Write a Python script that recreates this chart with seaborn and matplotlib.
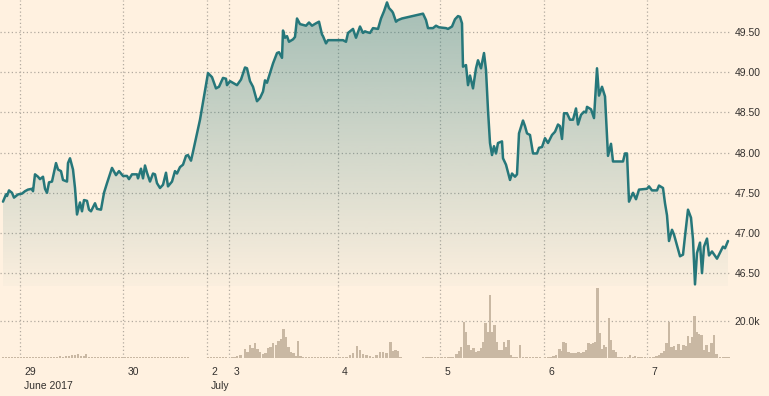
import numpy as np
import matplotlib
matplotlib.use("Agg")
import matplotlib.pyplot as plt
import matplotlib.colors as mcolors
import seaborn as sns
from matplotlib.patches import PathPatch

# trading period (about 14 min each, weekend gap removed) and price in USD
periods = [3, 6, 7, 9, 12, 14, 18, 22, 25, 28,
           32, 33, 35, 38, 40, 43, 45, 47, 49, 52,
           56, 58, 61, 63, 67, 68, 70, 73, 75, 77,
           80, 82, 84, 87, 89, 91, 95, 97, 101, 104,
           107, 112, 116, 119, 123, 127, 129, 132, 137, 138,
           141, 143, 145, 147, 150, 153, 155, 157, 160, 163,
           166, 168, 172, 175, 177, 180, 183, 186, 188, 191,
           193, 200, 208, 212, 216, 219, 223, 226, 227, 230,
           237, 241, 245, 247, 250, 253, 257, 260, 263, 265,
           267, 270, 273, 277, 279, 282, 283, 285, 287, 289,
           293, 295, 297, 300, 303, 306, 309, 312, 316, 319,
           322, 323, 326, 328, 333, 337, 340, 343, 346, 348,
           353, 356, 360, 363, 365, 367, 370, 373, 378, 381,
           384, 387, 389, 392, 393, 396, 398, 402, 423, 426,
           428, 433, 436, 439, 446, 448, 452, 455, 458, 460,
           462, 463, 466, 468, 470, 473, 476, 478, 481, 484,
           486, 488, 490, 492, 494, 496, 498, 502, 503, 506,
           510, 512, 515, 517, 519, 523, 525, 527, 530, 533,
           537, 539, 542, 545, 548, 552, 555, 558, 560, 562,
           564, 567, 570, 573, 576, 578, 581, 584, 586, 587,
           591, 594, 597, 599, 602, 603, 605, 608, 611, 613,
           623, 625, 627, 629, 633, 636, 639, 647, 649, 652,
           657, 659, 663, 665, 667, 669, 672, 674, 680, 683,
           685, 688, 691, 693, 695, 697, 700, 702, 704, 707,
           709, 712, 717, 723, 725, 728]
price = [47.39, 47.48, 47.46, 47.53, 47.50, 47.44, 47.48, 47.49, 47.52, 47.54,
         47.55, 47.52, 47.73, 47.70, 47.67, 47.70, 47.55, 47.50, 47.63, 47.64,
         47.87, 47.79, 47.77, 47.66, 47.64, 47.87, 47.93, 47.79, 47.56, 47.23,
         47.38, 47.27, 47.41, 47.40, 47.29, 47.27, 47.37, 47.30, 47.29, 47.50,
         47.62, 47.81, 47.72, 47.77, 47.71, 47.71, 47.67, 47.73, 47.73, 47.68,
         47.80, 47.68, 47.84, 47.75, 47.64, 47.74, 47.73, 47.62, 47.56, 47.60,
         47.75, 47.58, 47.64, 47.77, 47.74, 47.82, 47.85, 47.96, 47.97, 47.90,
         48.01, 48.41, 48.99, 48.94, 48.80, 48.82, 48.93, 48.92, 48.84, 48.89,
         48.84, 48.91, 49.06, 49.05, 48.89, 48.82, 48.64, 48.68, 48.76, 48.90,
         48.87, 48.99, 49.11, 49.24, 49.25, 49.18, 49.52, 49.43, 49.45, 49.38,
         49.41, 49.44, 49.67, 49.60, 49.59, 49.58, 49.62, 49.58, 49.61, 49.63,
         49.47, 49.45, 49.36, 49.40, 49.40, 49.40, 49.40, 49.40, 49.38, 49.49,
         49.54, 49.43, 49.57, 49.49, 49.51, 49.50, 49.49, 49.55, 49.54, 49.67,
         49.76, 49.87, 49.80, 49.76, 49.74, 49.63, 49.65, 49.67, 49.73, 49.65,
         49.55, 49.55, 49.58, 49.56, 49.55, 49.54, 49.57, 49.66, 49.70, 49.69,
         49.61, 49.07, 49.09, 48.84, 48.96, 48.80, 49.05, 49.15, 49.05, 49.24,
         49.03, 48.53, 48.12, 47.97, 48.08, 47.99, 48.12, 48.14, 47.93, 47.85,
         47.66, 47.74, 47.70, 47.73, 48.24, 48.40, 48.33, 48.24, 48.22, 47.99,
         47.99, 48.06, 48.07, 48.18, 48.12, 48.22, 48.26, 48.35, 48.33, 48.17,
         48.49, 48.49, 48.41, 48.41, 48.55, 48.35, 48.47, 48.51, 48.50, 48.57,
         48.54, 48.43, 49.05, 48.71, 48.82, 48.78, 48.70, 47.96, 48.11, 47.89,
         47.89, 47.99, 47.99, 47.39, 47.50, 47.42, 47.54, 47.55, 47.58, 47.53,
         47.53, 47.59, 47.56, 47.37, 47.22, 46.90, 47.04, 46.98, 46.71, 46.73,
         46.96, 47.29, 47.19, 46.92, 46.36, 46.75, 46.88, 46.50, 46.83, 46.93,
         46.72, 46.77, 46.68, 46.83, 46.81, 46.90]

# volume (thousands) per period
vol_periods = [3, 6, 9, 12, 15, 18, 21, 24, 27, 30,
               33, 36, 39, 42, 45, 48, 51, 54, 57, 60,
               63, 66, 69, 72, 75, 78, 81, 84, 86, 89,
               92, 95, 98, 101, 104, 107, 110, 113, 116, 119,
               122, 125, 128, 131, 134, 137, 140, 143, 146, 149,
               152, 155, 158, 161, 164, 167, 170, 173, 176, 179,
               182, 185, 188, 208, 211, 214, 217, 220, 223, 226,
               232, 234.5, 237, 240.5, 245, 247.5, 250, 252.5, 255, 257.5,
               260, 263, 265.5, 268, 270.5, 273, 276, 278.5, 281, 283.5,
               286, 288.5, 291, 293.5, 295.5, 298, 300.5, 303, 306, 309,
               312, 315, 318, 321, 324, 327, 330, 333, 336, 340,
               343, 346.5, 350, 353, 357, 360, 363, 366.5, 370, 373,
               376.5, 380, 383, 386.5, 390.5, 393, 395.5, 398, 400.5, 423,
               426, 428.5, 431.5, 435, 438, 441.5, 445, 448, 450.5, 453,
               456.5, 459, 461, 464, 466, 468.5, 471, 473.5, 476, 478.5,
               481, 483.5, 485.5, 488, 490, 492.5, 494.5, 497, 499.5, 502,
               504, 506, 508.5, 511, 513.5, 516.5, 520, 523, 526.5, 530,
               533, 536.5, 540, 545, 548.5, 551, 553.5, 556, 559.5, 561.5,
               563.5, 566, 568.5, 571, 573.5, 576, 578.5, 581, 583.5, 586,
               588.5, 591, 593.5, 595.5, 597.5, 599.5, 601.5, 604, 606, 609,
               611, 613.5, 616, 618.5, 621.5, 625, 628, 630, 633, 635,
               638.5, 641.5, 645, 650, 653.5, 656.5, 659, 661.5, 664, 666.5,
               669, 671.5, 674, 676.5, 678.5, 681, 683.5, 685.5, 688, 690,
               692.5, 694.5, 696.5, 699, 701.5, 704, 706.5, 709, 711.5, 714,
               716.5, 720, 723.5, 726.5, 729]
vol_k = [0.7, 0.7, 0.7, 0.7, 0.7, 0.7, 0.7, 0.7, 0.7, 0.7,
         0.7, 0.7, 0.9, 0.8, 0.8, 0.8, 0.9, 0.8, 0.9, 1.0,
         0.9, 1.1, 1.1, 1.8, 1.8, 2.3, 1.2, 1.1, 2.3, 0.7,
         0.7, 0.7, 0.7, 0.7, 0.7, 0.7, 0.7, 0.7, 0.7, 0.7,
         0.7, 0.7, 0.7, 0.7, 0.7, 0.7, 0.7, 0.7, 0.8, 0.7,
         0.7, 0.7, 0.7, 0.7, 0.7, 0.7, 0.7, 0.7, 0.7, 0.7,
         0.7, 0.7, 0.9, 0.7, 0.7, 0.7, 0.7, 0.7, 0.7, 0.7,
         0.7, 0.7, 1.3, 1.8, 4.9, 3.6, 7.2, 5.4, 8.1, 4.9,
         3.6, 2.3, 3.1, 5.4, 6.3, 8.5, 7.2, 9.5, 10.3, 15.7,
         11.7, 6.3, 3.6, 3.1, 1.3, 9.4, 1.3, 0.7, 0.7, 0.7,
         0.7, 0.7, 0.7, 0.7, 0.7, 0.7, 0.7, 0.7, 0.7, 0.7,
         0.7, 0.7, 1.8, 3.1, 6.7, 4.5, 2.3, 1.8, 1.3, 0.9,
         1.8, 3.6, 3.6, 3.1, 9.0, 4.1, 4.5, 4.0, 0.7, 0.7,
         0.7, 0.7, 0.7, 0.7, 0.7, 0.7, 0.7, 0.7, 0.7, 0.9,
         2.3, 4.1, 6.3, 19.8, 14.4, 7.2, 4.5, 5.4, 3.6, 4.1,
         5.4, 9.0, 18.9, 14.4, 34.2, 14.4, 18.0, 9.0, 4.5, 4.5,
         9.0, 6.3, 9.9, 1.8, 0.9, 0.7, 7.2, 0.7, 0.7, 0.7,
         0.7, 0.7, 0.7, 0.7, 0.7, 0.7, 1.3, 1.8, 4.9, 4.1,
         9.0, 8.1, 3.6, 3.1, 3.1, 2.7, 3.6, 3.1, 3.6, 4.5,
         8.1, 7.7, 8.1, 9.0, 37.8, 13.5, 4.9, 7.2, 6.3, 21.6,
         9.9, 4.5, 3.6, 0.9, 0.7, 0.7, 0.7, 1.8, 0.7, 1.3,
         0.9, 0.7, 0.7, 0.7, 0.7, 1.3, 1.8, 3.1, 4.1, 8.1,
         19.8, 6.3, 6.7, 4.5, 7.7, 4.5, 7.2, 6.7, 12.1, 8.1,
         11.7, 22.9, 14.4, 13.1, 12.6, 4.5, 7.2, 3.6, 8.1, 12.6,
         2.3, 0.7, 0.7, 0.9, 0.7]

day_ticks = [20, 123, 207, 229, 338, 440, 544, 647]
day_labels = ["29", "30", "2", "3", "4", "5", "6", "7"]
month_ticks = [20, 207]
month_labels = ["June 2017", "July"]
price_ticks = [46.5, 47.0, 47.5, 48.0, 48.5, 49.0, 49.5]
vol_ticks = [20]

BG = "#fff1e0"
LINE = "#26777a"
BAR = "#c9b8a3"
GRID = "#b3aaa0"
TXT = "#33302e"

sns.set_theme(style="white", rc={"figure.facecolor": BG, "axes.facecolor": BG,
                                 "savefig.facecolor": BG})
plt.rcParams["font.family"] = ["Liberation Sans", "DejaVu Sans"]

W, H = 769, 396
fig = plt.figure(figsize=(W / 100, H / 100), dpi=100)
ax = fig.add_axes([0, 1 - 286 / H, 731 / W, 286 / H])
axv = fig.add_axes([0, (H - 358.3) / H, 731 / W, 72.3 / H], sharex=ax)

ymin, ymax = 46.34, 49.90
xmin, xmax = 0, 731

# price line + gradient area
sns.lineplot(x=periods, y=price, ax=ax, color=LINE, lw=1.8, zorder=3)
poly = ax.fill_between(periods, price, ymin, color="none", lw=0)
clip = PathPatch(poly.get_paths()[0], transform=ax.transData,
                 facecolor="none", edgecolor="none")
ax.add_patch(clip)
grad = np.zeros((256, 1, 4))
grad[..., :3] = mcolors.to_rgb(LINE)
grad[:, 0, 3] = np.linspace(0.02, 0.42, 256)
im = ax.imshow(grad, extent=[xmin, xmax, ymin, ymax], origin="lower",
               aspect="auto", zorder=1)
im.set_clip_path(clip)

# volume bars
axv.bar(vol_periods, vol_k, width=2.1, color=BAR, lw=0)

ax.set_xlim(xmin, xmax)
ax.set_ylim(ymin, ymax)
axv.set_ylim(0, 39.1)

grid_kw = dict(color=GRID, ls=(0, (1, 2)), lw=0.9)
for a in (ax, axv):
    a.set_xticks(day_ticks)
    a.grid(True, **grid_kw)
    a.set_axisbelow(True)
    for s in a.spines.values():
        s.set_visible(False)
    a.yaxis.tick_right()
    a.set_xlabel("")
    a.set_ylabel("")

ax.set_yticks(price_ticks)
ax.set_yticklabels([f"{v:.2f}" for v in price_ticks])
ax.tick_params(axis="y", length=0, pad=2.4, labelsize=7.5, labelcolor=TXT)
ax.tick_params(axis="x", length=0, labelbottom=False)

axv.set_yticks(vol_ticks)
axv.set_yticklabels([f"{v:.1f}k" for v in vol_ticks])
axv.tick_params(axis="y", length=0, pad=2.4, labelsize=7.5, labelcolor=TXT)
axv.tick_params(axis="x", length=4.3, width=0.7, color="#a39a90",
                direction="out", labelbottom=False)

for x, lab in zip(day_ticks, day_labels):
    axv.annotate(lab, xy=(x, 0), xycoords=("data", "axes fraction"),
                 xytext=(3.0, -11.7), textcoords="offset points",
                 ha="left", va="baseline", fontsize=7.5, color=TXT)
for x, lab in zip(month_ticks, month_labels):
    axv.annotate(lab, xy=(x, 0), xycoords=("data", "axes fraction"),
                 xytext=(3.0, -21.8), textcoords="offset points",
                 ha="left", va="baseline", fontsize=7.5, color=TXT)

fig.savefig("out.png", dpi=100)
